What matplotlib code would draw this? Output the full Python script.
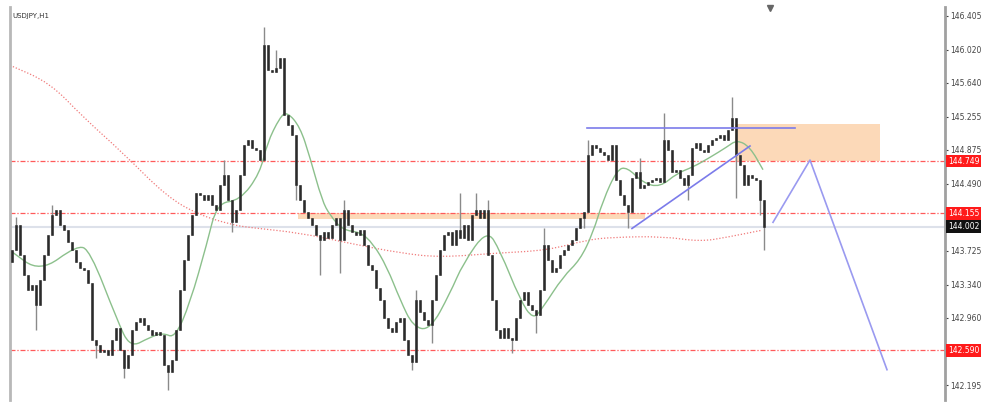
import matplotlib
matplotlib.use("Agg")
import matplotlib.pyplot as plt
import matplotlib.transforms as mtransforms
from matplotlib.patches import Rectangle, PathPatch
from matplotlib.path import Path

# USDJPY H1 closes, one per bar
closes = [143.73, 144.02, 143.68, 143.45, 143.28, 143.33, 143.11, 143.39, 143.68, 143.90,
          144.13, 144.19, 144.02, 143.96, 143.83, 143.73, 143.60, 143.53, 143.51, 143.36,
          142.71, 142.65, 142.57, 142.60, 142.54, 142.71, 142.85, 142.60, 142.39, 142.54,
          142.82, 142.91, 142.96, 142.88, 142.82, 142.77, 142.80, 142.77, 142.42, 142.34,
          142.48, 142.82, 143.28, 143.62, 143.90, 144.13, 144.39, 144.36, 144.30, 144.36,
          144.25, 144.19, 144.47, 144.59, 144.30, 144.05, 144.19, 144.59, 144.93, 144.99,
          144.90, 144.87, 144.76, 146.07, 145.79, 145.76, 145.81, 145.92, 145.27, 145.16,
          145.05, 144.47, 144.30, 144.17, 144.10, 144.02, 143.90, 143.85, 143.94, 143.87,
          144.02, 144.10, 143.85, 144.19, 144.02, 143.94, 143.90, 143.96, 143.79, 143.56,
          143.51, 143.30, 143.17, 142.96, 142.85, 142.80, 142.91, 142.96, 142.71, 142.54,
          142.46, 143.17, 143.03, 142.94, 142.88, 143.17, 143.45, 143.73, 143.90, 143.94,
          143.79, 143.96, 143.87, 144.02, 143.85, 144.13, 144.19, 144.10, 144.19, 143.68,
          143.17, 142.82, 142.73, 142.85, 142.73, 142.71, 142.96, 143.17, 143.26, 143.11,
          143.05, 142.99, 143.28, 143.79, 143.62, 143.48, 143.53, 143.68, 143.73, 143.79,
          143.85, 143.98, 144.10, 144.17, 144.82, 144.93, 144.90, 144.85, 144.82, 144.76,
          144.93, 144.53, 144.36, 144.25, 144.17, 144.55, 144.62, 144.44, 144.47, 144.51,
          144.53, 144.55, 144.51, 144.99, 144.87, 144.62, 144.65, 144.55, 144.47, 144.59,
          144.90, 144.95, 144.87, 144.85, 144.93, 144.99, 145.01, 145.05, 144.99, 145.10,
          145.24, 144.82, 144.70, 144.47, 144.59, 144.55, 144.53, 144.30, 144.00]
first_open = 143.60

# visible wick extremes (bar index -> price)
spike_highs = {1: 144.11, 10: 144.25, 53: 144.76, 63: 146.28, 66: 146.01, 83: 144.30,
               101: 143.28, 112: 144.38, 116: 144.38, 119: 144.30, 133: 143.98,
               144: 144.99, 157: 144.78, 163: 145.30, 180: 145.48}
spike_lows = {6: 142.82, 21: 142.50, 28: 142.27, 39: 142.14, 55: 143.94, 71: 144.30,
              77: 143.45, 82: 143.47, 100: 142.37, 105: 142.67, 125: 142.56,
              131: 142.79, 143: 143.98, 154: 143.98, 169: 144.30, 181: 144.33,
              187: 144.13, 188: 143.73}

# moving averages sampled along the chart (bar position, price)
fast_ma_x = [-0.5, 7, 16.25, 19.5, 26.25, 29.5, 34.5, 37.75, 40.75, 44.5, 48.75, 51.25,
             57, 62, 63.75, 67, 68.75, 72, 74.5, 77.5, 79.5, 82.75, 87, 90.25, 93.75, 97,
             100.25, 104.5, 109.5, 112.75, 118.75, 122, 127, 130.25, 132.75, 137.75, 142,
             145.25, 147.75, 151.25, 153.75, 157.75, 162, 166.25, 170.25, 174.5, 178.75,
             181.25, 184.5, 187.75]
fast_ma = [143.73, 143.48, 143.79, 143.73, 142.94, 142.62, 142.74, 142.79, 142.73, 143.13,
           143.81, 144.27, 144.30, 144.61, 144.95, 145.25, 145.31, 145.14, 144.79, 144.30,
           144.13, 143.96, 143.94, 143.81, 143.54, 143.17, 142.86, 142.82, 143.24, 143.58,
           143.97, 143.73, 143.17, 142.94, 143.08, 143.43, 143.62, 143.93, 144.30, 144.65,
           144.68, 144.50, 144.45, 144.61, 144.68, 144.79, 144.91, 144.99, 144.91, 144.65]
slow_ma_x = [-0.5, 9.5, 17.75, 27.75, 38.75, 47, 55.25, 59.5, 72, 84.5, 97, 107, 121.25,
             133.75, 143.75, 150.25, 162.75, 172, 178.75, 187.5]
slow_ma = [145.84, 145.64, 145.25, 144.84, 144.34, 144.13, 144.02, 143.99, 143.93, 143.81,
           143.70, 143.65, 143.70, 143.73, 143.85, 143.88, 143.89, 143.83, 143.88, 143.96]

# levels and drawings
red_levels = [144.749, 144.155, 142.590]
bid_price = 144.002
ticks = [146.405, 146.020, 145.640, 145.255, 144.875, 144.490, 143.725, 143.340, 142.960, 142.195]
supply_zone = (180.75, 217.0, 144.749, 145.17)
flip_zone = (71.5, 158.25, 144.09, 144.155)
top_line_x = [143.75, 195.75]
top_line_y = [145.125, 145.125]
trend_x = [155, 184.5]
trend_y = [143.98, 144.92]
path_x = [190.25, 199.5, 218.75]
path_y = [144.05, 144.76, 142.37]


def smooth_path(xs, ys):
    # sampled points act as quadratic control points, midpoints lie on the curve
    pts = list(zip(xs, ys))
    verts = [pts[0]]
    codes = [Path.MOVETO]
    mids = [((pts[k][0] + pts[k + 1][0]) / 2, (pts[k][1] + pts[k + 1][1]) / 2)
            for k in range(len(pts) - 1)]
    verts.append(mids[0])
    codes.append(Path.LINETO)
    for k in range(1, len(pts) - 1):
        verts += [pts[k], mids[k]]
        codes += [Path.CURVE3, Path.CURVE3]
    verts.append(pts[-1])
    codes.append(Path.LINETO)
    return Path(verts, codes)


fig = plt.figure(figsize=(10, 4.15), dpi=100)
ax = fig.add_axes([0.010, 0.036, 0.935, 0.947])
ax.set_xlim(-0.5, 233.25)
ax.set_ylim(142.024, 146.504)

# zones
x0, x1, y0, y1 = supply_zone
ax.add_patch(Rectangle((x0, y0), x1 - x0, y1 - y0, color="#fcd9b8", lw=0, zorder=0))
x0, x1, y0, y1 = flip_zone
ax.add_patch(Rectangle((x0, y0), x1 - x0, y1 - y0, color="#fcd9b8", lw=0, zorder=0))

for lv in red_levels:
    ax.axhline(lv, color="#ff5a5a", lw=0.9, ls=(0, (4, 1.5, 1, 1.5)), zorder=1)
ax.axhline(bid_price, color="#dde1ea", lw=1.5, zorder=1)

ax.add_patch(PathPatch(smooth_path(slow_ma_x, slow_ma), fill=False, ec="#f07a7a",
                       lw=0.9, ls=(0, (1, 1.5)), zorder=2))
ax.add_patch(PathPatch(smooth_path(fast_ma_x, fast_ma), fill=False, ec="#8cc08c",
                       lw=1.0, zorder=2))

# candles
for i, c in enumerate(closes):
    o = first_open if i == 0 else closes[i - 1]
    hi = spike_highs.get(i, max(o, c))
    lo = spike_lows.get(i, min(o, c))
    ax.vlines(i, lo, hi, color="#8a8a8a", lw=1.0, zorder=3)
    ax.bar(i, max(abs(c - o), 0.012), bottom=min(o, c), width=0.7,
           color="#2b2b2b", edgecolor="#2b2b2b", lw=0.4, zorder=4)

# trend drawings
ax.plot(top_line_x, top_line_y, color="#7b7bea", lw=1.2, zorder=5)
ax.plot(trend_x, trend_y, color="#7b7bea", lw=1.2, zorder=5)
ax.plot(path_x, path_y, color="#9a9af0", lw=1.2, zorder=5)

# axis styling
for s in ["top", "bottom"]:
    ax.spines[s].set_visible(False)
ax.spines["right"].set_color("#a0a0a0")
ax.spines["right"].set_linewidth(2)
ax.spines["left"].set_color("#b8b8b8")
ax.spines["left"].set_linewidth(2)
ax.set_xticks([])
ax.yaxis.tick_right()
ax.set_yticks(ticks)
ax.set_yticklabels(["%.3f" % t for t in ticks])
ax.tick_params(axis="y", labelsize=5.5, colors="#444444", length=2, pad=2)

trans = mtransforms.blended_transform_factory(ax.transAxes, ax.transData)
for lv in red_levels:
    ax.text(1.003, lv, "%.3f" % lv, transform=trans, fontsize=5.5, color="white",
            va="center", ha="left", zorder=10,
            bbox=dict(boxstyle="square,pad=0.25", fc="#ff1a1a", ec="none"))
ax.text(1.003, bid_price, "%.3f" % bid_price, transform=trans, fontsize=5.5, color="white",
        va="center", ha="left", zorder=10,
        bbox=dict(boxstyle="square,pad=0.25", fc="#111111", ec="none"))

ax.text(0.003, 0.985, "USDJPY,H1", transform=ax.transAxes, fontsize=5, color="#333333",
        va="top", ha="left")
ax.plot([189.5], [146.49], marker="v", color="#666666", markersize=4, clip_on=False)

fig.savefig("out.png", dpi=100)
